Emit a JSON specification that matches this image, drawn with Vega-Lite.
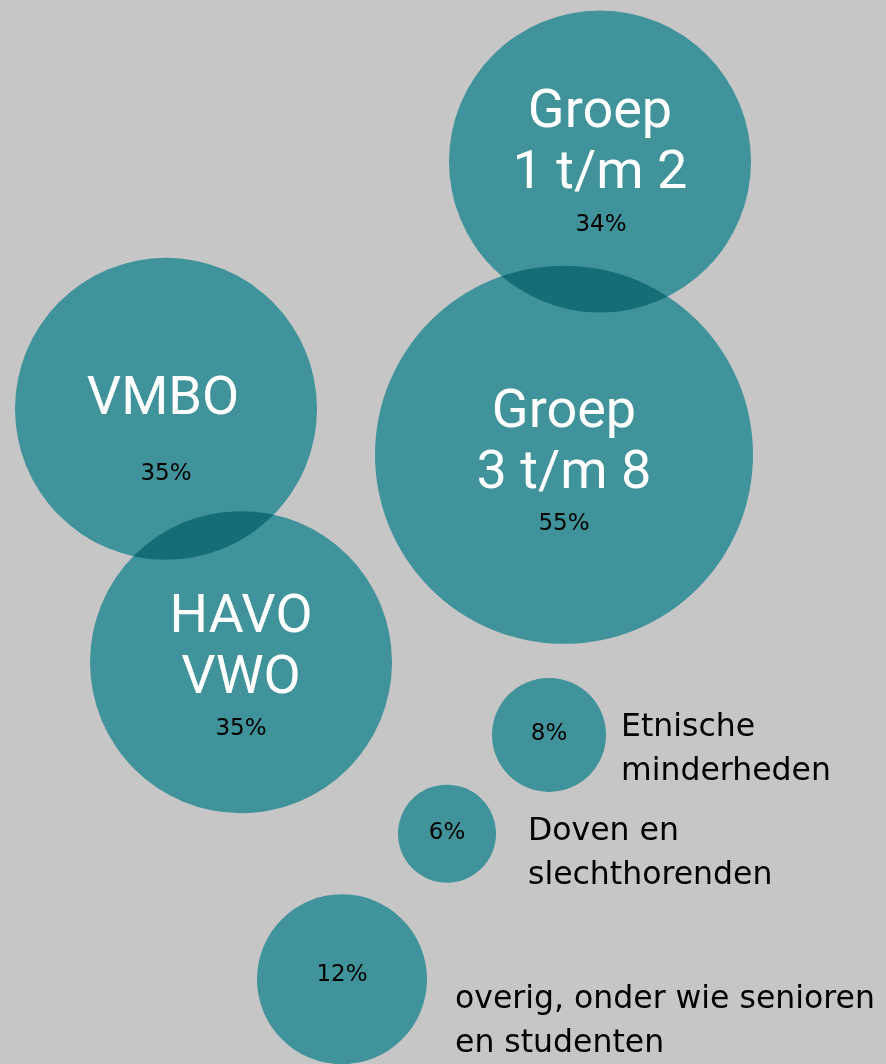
{
  "$schema": "https://vega.github.io/schema/vega-lite/v6.json",
  "width": 886,
  "height": 1064,
  "autosize": {"type": "fit", "contains": "padding"},
  "padding": 0,
  "background": "#c6c6c6",
  "config": {"view": {"stroke": null}},
  "datasets": {
    "circles": [
      {"cat": "Groep 1 t/m 2", "x": 600, "y": 162, "pct": 34},
      {"cat": "Groep 3 t/m 8", "x": 564, "y": 456, "pct": 55},
      {"cat": "VMBO", "x": 166, "y": 410, "pct": 35},
      {"cat": "HAVO VWO", "x": 241, "y": 664, "pct": 35},
      {"cat": "Etnische minderheden", "x": 549, "y": 737, "pct": 8},
      {"cat": "Doven en slechthorenden", "x": 447, "y": 836, "pct": 6},
      {"cat": "overig", "x": 342, "y": 982, "pct": 12}
    ],
    "big": [
      {"label": ["Groep", "1 t/m 2"], "x": 600, "y": 127},
      {"label": ["Groep", "3 t/m 8"], "x": 564, "y": 428},
      {"label": ["VMBO"], "x": 163, "y": 415},
      {"label": ["HAVO", "VWO"], "x": 241, "y": 634}
    ],
    "pcts": [
      {"label": "34%", "x": 601, "y": 232},
      {"label": "55%", "x": 564, "y": 531},
      {"label": "35%", "x": 166, "y": 481},
      {"label": "35%", "x": 241, "y": 737},
      {"label": "8%", "x": 549, "y": 742},
      {"label": "6%", "x": 447, "y": 841},
      {"label": "12%", "x": 342, "y": 984}
    ],
    "side": [
      {"label": ["Etnische", "minderheden"], "x": 621, "y": 738},
      {"label": ["Doven en", "slechthorenden"], "x": 528, "y": 842},
      {"label": ["overig, onder wie senioren", "en studenten"], "x": 455, "y": 1011}
    ]
  },
  "encoding": {
    "x": {"field": "x", "type": "quantitative", "scale": {"domain": [0, 886], "nice": false, "zero": false}, "axis": null},
    "y": {"field": "y", "type": "quantitative", "scale": {"domain": [0, 1064], "nice": false, "zero": false, "reverse": true}, "axis": null}
  },
  "layer": [
    {
      "data": {"name": "circles"},
      "mark": {"type": "point", "shape": "circle", "filled": true, "color": "#52bdc6", "opacity": 1, "blend": "multiply", "strokeWidth": 0},
      "encoding": {
        "size": {"field": "pct", "type": "quantitative", "legend": null,
          "scale": {"domain": [6, 8, 12, 34, 35, 55], "range": [9604, 12996, 28900, 91204, 91204, 142884]}}
      }
    },
    {
      "data": {"name": "big"},
      "mark": {"type": "text", "font": "Roboto", "fontSize": 54, "lineHeight": 61, "color": "white", "align": "center", "baseline": "alphabetic"},
      "encoding": {"text": {"field": "label"}}
    },
    {
      "data": {"name": "pcts"},
      "mark": {"type": "text", "font": "DejaVu Sans", "fontSize": 23, "color": "black", "align": "center", "baseline": "alphabetic"},
      "encoding": {"text": {"field": "label"}}
    },
    {
      "data": {"name": "side"},
      "mark": {"type": "text", "font": "DejaVu Sans", "fontSize": 31.5, "lineHeight": 44, "color": "black", "align": "left", "baseline": "alphabetic"},
      "encoding": {"text": {"field": "label"}}
    }
  ]
}
